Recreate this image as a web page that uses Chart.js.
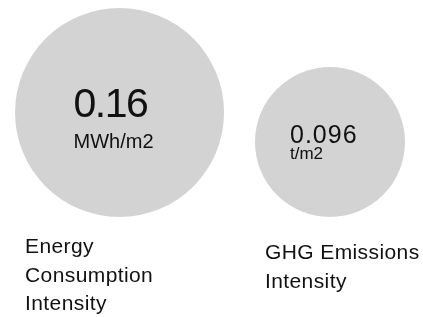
<!DOCTYPE html>
<html>
<head>
<meta charset="utf-8">
<script src="https://cdn.jsdelivr.net/npm/chart.js@4"></script>
<style>
  html, body { margin: 0; padding: 0; background: #fff; }
  #wrap { width: 423px; height: 317px; }
</style>
</head>
<body>
<div id="wrap"><canvas id="myChart" width="423" height="317"></canvas></div>
<script>
// data
const categories = [['Energy', 'Consumption', 'Intensity'], ['GHG Emissions', 'Intensity']];
const values = [0.16, 0.096];
const valueLabels = ['0.16', '0.096'];
const units = ['MWh/m2', 't/m2'];

// bubble size: linear from smallest to largest value
const rMin = 75, rMax = 104.5;
const vMin = Math.min(...values), vMax = Math.max(...values);
function radius(v) {
  return rMin + (v - vMin) * (rMax - rMin) / (vMax - vMin);
}

// text styles per bubble
const bigFont = [41, 25];
const bigSpacing = ['-1.5px', '1px'];
const unitFont = [20, 17];
const bigDy = [4, 1];
const unitDy = [35, 17];
const textDx = [-46, -40];
const labelDy = [36, 42];
const FONT = '"Liberation Sans", Arial, Helvetica, sans-serif';

const textPlugin = {
  id: 'bubbleText',
  afterDatasetsDraw(chart) {
    const c = chart.ctx;
    const meta = chart.getDatasetMeta(0);
    c.save();
    c.fillStyle = '#111';
    c.textBaseline = 'alphabetic';
    c.textAlign = 'left';
    meta.data.forEach((pt, i) => {
      const r = radius(values[i]);
      c.font = bigFont[i] + 'px ' + FONT;
      c.letterSpacing = bigSpacing[i];
      c.fillText(valueLabels[i], pt.x + textDx[i], pt.y + bigDy[i]);
      c.font = unitFont[i] + 'px ' + FONT;
      c.letterSpacing = '0px';
      c.fillText(units[i], pt.x + textDx[i], pt.y + unitDy[i]);

      c.font = '21px ' + FONT;
      c.letterSpacing = '0.4px';
      categories[i].forEach((line, j) => {
        c.fillText(line, pt.x - r + 10, pt.y + r + labelDy[i] + j * 28.7);
      });
    });
    c.restore();
  }
};

const ctx = document.getElementById('myChart');

new Chart(ctx, {
  type: 'bubble',
  data: {
    datasets: [{
      data: values.map((v, i) => ({ x: i, y: radius(v), r: radius(v) })),
      backgroundColor: '#d3d3d3',
      borderWidth: 0,
      hoverBorderWidth: 0,
      clip: false
    }]
  },
  options: {
    responsive: false,
    animation: false,
    events: [],
    layout: { autoPadding: false, padding: { left: 0, right: 0, top: 0, bottom: 100 } },
    scales: {
      x: { type: 'linear', display: false, min: -0.568, max: 1.442 },
      y: { type: 'linear', display: false, min: 0, max: 217 }
    },
    plugins: {
      legend: { display: false },
      tooltip: { enabled: false }
    }
  },
  plugins: [textPlugin]
});
</script>
</body>
</html>
